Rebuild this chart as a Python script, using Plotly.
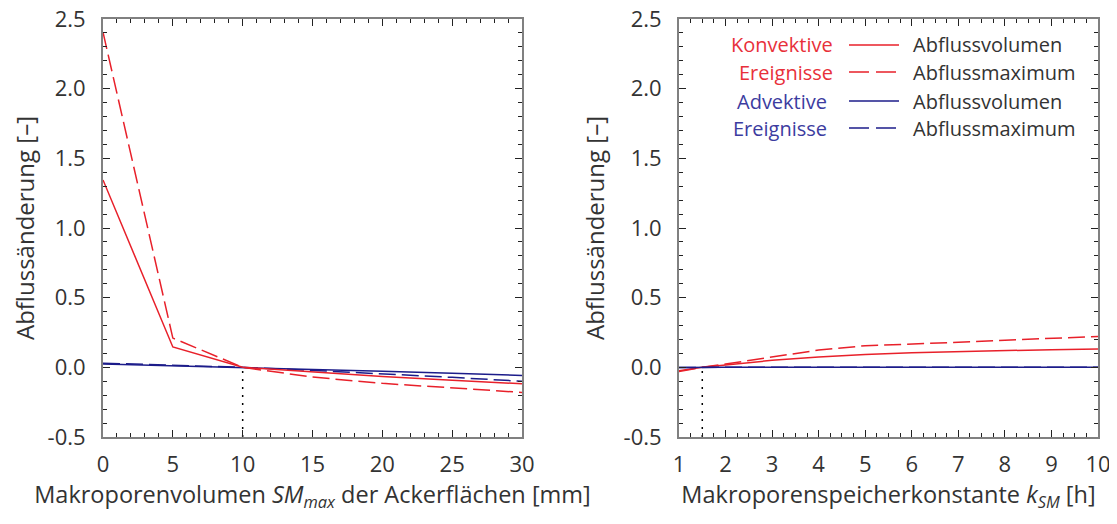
import plotly.graph_objects as go

# ---- data ----
sm_max = [0, 5, 10, 15, 20, 25, 30]
konv_vol_sm = [1.345, 0.146, 0.0, -0.035, -0.065, -0.092, -0.118]
konv_max_sm = [2.405, 0.21, 0.0, -0.07, -0.115, -0.15, -0.18]
adv_vol_sm = [0.024, 0.012, 0.0, -0.014, -0.028, -0.043, -0.058]
adv_max_sm = [0.03, 0.015, 0.0, -0.022, -0.046, -0.072, -0.10]

k_sm = [1, 1.5, 2, 3, 4, 5, 6, 7, 8, 9, 10]
konv_vol_k = [-0.024, 0.0, 0.017, 0.05, 0.074, 0.093, 0.105, 0.113, 0.12, 0.127, 0.131]
konv_max_k = [-0.03, 0.0, 0.024, 0.076, 0.124, 0.155, 0.17, 0.18, 0.194, 0.206, 0.222]
adv_vol_k = [-0.002, 0.0, 0.0, 0.0, 0.0, 0.0, 0.0, 0.0, 0.0, 0.0, 0.0]
adv_max_k = [-0.002, 0.0, 0.0, 0.0, 0.0, 0.0, 0.0, 0.0, 0.0, 0.0, 0.0]

ref_sm = 10
ref_k = 1.5
ref_y = [-0.5, 0.0]

y_vals = [-0.5, 0.0, 0.5, 1.0, 1.5, 2.0, 2.5]
y_text = ["-0.5", "0.0", "0.5", "1.0", "1.5", "2.0", "2.5"]
x1_vals = [0, 5, 10, 15, 20, 25, 30]
x2_vals = [1, 2, 3, 4, 5, 6, 7, 8, 9, 10]

legend_groups = ["Konvektive<br>Ereignisse", "Advektive<br>Ereignisse"]
legend_items = ["Abflussvolumen", "Abflussmaximum"]

RED = "#e8202a"
BLUE = "#1c1c8a"
RED_T = "#e8303a"
BLUE_T = "#3c3ca0"
TXT = "#333333"
FONT = "Open Sans"
DASH = "17px,6px"

fig = go.Figure()

def add(x, y, color, dash, xa, ya, width=1.5):
    fig.add_trace(go.Scatter(x=x, y=y, mode="lines", xaxis=xa, yaxis=ya,
                             line=dict(color=color, width=width, dash=dash),
                             showlegend=False, hoverinfo="skip"))

# left panel
add(sm_max, adv_vol_sm, BLUE, "solid", "x", "y")
add(sm_max, adv_max_sm, BLUE, DASH, "x", "y")
add(sm_max, konv_vol_sm, RED, "solid", "x", "y")
add(sm_max, konv_max_sm, RED, DASH, "x", "y")
add([ref_sm, ref_sm], ref_y, "black", "2px,6px", "x", "y", 1.5)
# right panel
add(k_sm, konv_vol_k, RED, "solid", "x2", "y2")
add(k_sm, konv_max_k, RED, DASH, "x2", "y2")
add(k_sm, adv_vol_k, BLUE, "solid", "x2", "y2")
add(k_sm, adv_max_k, BLUE, DASH, "x2", "y2")
add([ref_k, ref_k], ref_y, "black", "2px,6px", "x2", "y2", 1.5)

# page has an 8px body margin: the figure starts at (8, 8) in the window
OFF = 8
W, H = 1117 - 2 * OFF, 524 - 2 * OFF
def px(v):
    return (v - OFF) / W
def py(v):
    return (H - (v - OFF)) / H

axis_common = dict(
    showgrid=False, zeroline=False, showline=True, linecolor="#808080", linewidth=2,
    mirror="allticks", ticks="inside", ticklen=7, tickwidth=1.2, tickcolor="#222222",
    tickfont=dict(family=FONT, size=22, color=TXT), automargin=False,
    ticklabeloverflow="allow",
)

yaxis_common = dict(axis_common, range=[-0.5, 2.5], tickmode="array",
                    tickvals=y_vals, ticktext=y_text, ticklabelstandoff=11,
                    minor=dict(ticks="inside", dtick=0.1, ticklen=4, tickwidth=1.2,
                               tickcolor="#222222", showgrid=False),
                    title=dict(text="Abflussänderung [–]",
                               font=dict(family=FONT, size=24, color=TXT), standoff=12))

fig.update_layout(
    width=W, height=H, margin=dict(l=0, r=0, t=0, b=0, autoexpand=False),
    paper_bgcolor="white", plot_bgcolor="white",
    xaxis=dict(axis_common, domain=[px(103), px(522)], range=[0, 30], anchor="y",
               tickmode="array", tickvals=x1_vals, ticklabelstandoff=7,
               minor=dict(ticks="inside", dtick=1, ticklen=4, tickwidth=1.2,
                          tickcolor="#222222", showgrid=False),
               title=dict(text="Makroporenvolumen <i>SM</i><sub><i>max</i></sub> der Ackerflächen [mm]",
                          font=dict(family=FONT, size=23.5, color=TXT), standoff=8)),
    yaxis=dict(yaxis_common, domain=[py(437), py(19)], anchor="x"),
    xaxis2=dict(axis_common, domain=[px(679), px(1098)], range=[1, 10], anchor="y2",
                tickmode="array", tickvals=x2_vals, ticklabelstandoff=7,
                minor=dict(ticks="inside", dtick=0.25, tick0=1, ticklen=4, tickwidth=1.2,
                           tickcolor="#222222", showgrid=False),
                title=dict(text="Makroporenspeicherkonstante <i>k</i><sub><i>SM</i></sub> [h]",
                           font=dict(family=FONT, size=23.5, color=TXT), standoff=8)),
    yaxis2=dict(yaxis_common, domain=[py(437), py(19)], anchor="x2"),
)

# legend (annotations + sample lines)
group_colors = [RED_T, BLUE_T]
line_colors = [RED, BLUE]
row_y = [[45, 72], [101, 128]]
group_right = [835, 829]
for g in range(2):
    words = legend_groups[g].split("<br>")
    for i in range(2):
        yy = row_y[g][i]
        fig.add_annotation(xref="paper", yref="paper", x=px(group_right[g]), y=py(yy),
                           text=words[i], showarrow=False, xanchor="right", yanchor="middle",
                           font=dict(family=FONT, size=20, color=group_colors[g]))
        fig.add_annotation(xref="paper", yref="paper", x=px(911), y=py(yy),
                           text=legend_items[i], showarrow=False, xanchor="left", yanchor="middle",
                           font=dict(family=FONT, size=20, color=TXT))
        fig.add_shape(type="line", xref="paper", yref="paper",
                      x0=px(849), x1=px(899), y0=py(yy), y1=py(yy),
                      line=dict(color=line_colors[g], width=1.5,
                                dash="solid" if i == 0 else "20px,7px"))

fig.write_html("out.html")
